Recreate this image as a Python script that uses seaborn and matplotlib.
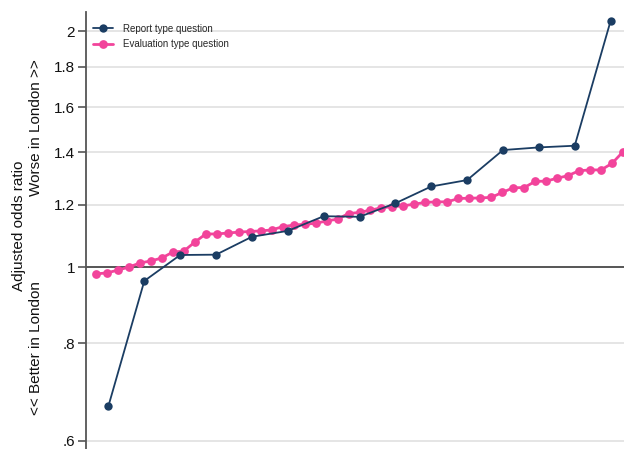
import matplotlib
matplotlib.use("Agg")
import matplotlib.pyplot as plt
import seaborn as sns
import numpy as np
import pandas as pd

# ---- data ----
report_or = [0.665, 0.960, 1.036, 1.037, 1.093, 1.112, 1.161, 1.159, 1.206,
             1.267, 1.291, 1.410, 1.421, 1.428, 2.060]
evaluation_or = [0.980, 0.983, 0.991, 1.000, 1.012, 1.018, 1.027, 1.045, 1.048,
                 1.076, 1.102, 1.102, 1.105, 1.108, 1.110, 1.112, 1.115, 1.126,
                 1.131, 1.134, 1.137, 1.145, 1.151, 1.170, 1.174, 1.182, 1.190,
                 1.194, 1.197, 1.203, 1.209, 1.211, 1.211, 1.223, 1.224, 1.225,
                 1.227, 1.245, 1.262, 1.263, 1.286, 1.287, 1.298, 1.308, 1.327,
                 1.330, 1.330, 1.356, 1.403]
series_names = ["Report type question", "Evaluation type question"]
y_ticks = [0.6, 0.8, 1.0, 1.2, 1.4, 1.6, 1.8, 2.0]
y_tick_labels = [".6", ".8", "1", "1.2", "1.4", "1.6", "1.8", "2"]

def ranked(vals, name):
    n = len(vals)
    return pd.DataFrame({"pos": [(i + 0.5) / n for i in range(n)],
                         "or": vals, "series": name})

df = pd.concat([ranked(report_or, series_names[0]),
                ranked(evaluation_or, series_names[1])], ignore_index=True)

sns.set_theme(style="white")
plt.rcParams["font.family"] = ["Liberation Sans", "DejaVu Sans"]

navy = "#1b3d63"
pink = "#f2449b"

fig = plt.figure(figsize=(6.24, 4.49), dpi=100)
ax = fig.add_axes([86 / 624, 0, 538 / 624, 1 - 12 / 449])

ax.set_yscale("log")
for t in y_ticks:
    if t == 1.0:
        ax.axhline(t, color="#555555", lw=1.4, zorder=1)
    else:
        ax.axhline(t, color="#e3e3e3", lw=1.3, zorder=0)

sub_r = df[df.series == series_names[0]]
sub_e = df[df.series == series_names[1]]
sns.lineplot(data=sub_e, x="pos", y="or", ax=ax, color=pink, lw=2.0,
             marker="o", markersize=6.3, markeredgewidth=0, label=series_names[1],
             zorder=3)
sns.lineplot(data=sub_r, x="pos", y="or", ax=ax, color=navy, lw=1.3,
             marker="o", markersize=6.0, markeredgewidth=0, label=series_names[0],
             zorder=4)

ax.set_ylim(0.586, 2.115)
ax.set_xlim(-0.0084, 0.9916)
ax.set_yticks(y_ticks)
ax.set_yticklabels(y_tick_labels)
ax.yaxis.set_minor_locator(matplotlib.ticker.NullLocator())
ax.tick_params(axis="y", which="major", left=True, length=6, width=1.2,
               color="#555555", labelsize=11, labelcolor="#111111", pad=2)
ax.set_xticks([])
ax.set_xlabel("")
ax.set_ylabel("")
for s in ["top", "right", "bottom"]:
    ax.spines[s].set_visible(False)
ax.spines["left"].set_color("#555555")
ax.spines["left"].set_linewidth(1.3)

handles, labels = ax.get_legend_handles_labels()
order = [labels.index(series_names[0]), labels.index(series_names[1])]
ax.legend([handles[i] for i in order], [labels[i] for i in order],
          loc="upper left", bbox_to_anchor=(0.0, 1.0 - 5 / 437), frameon=False,
          fontsize=7, handlelength=2.1, handletextpad=1.0, labelspacing=0.55,
          borderaxespad=0.3, borderpad=0.4)

fig.text(19 / 624, 1 - 226 / 449, "Adjusted odds ratio", rotation=90,
         ha="center", va="center", fontsize=11, color="#111111")
fig.text(36 / 624, 1 - 128 / 449, "Worse in London >>", rotation=90,
         ha="center", va="center", fontsize=11, color="#111111")
fig.text(36 / 624, 1 - 348 / 449, "<< Better in London", rotation=90,
         ha="center", va="center", fontsize=11, color="#111111")

fig.savefig("out.png", dpi=100, facecolor="white")
